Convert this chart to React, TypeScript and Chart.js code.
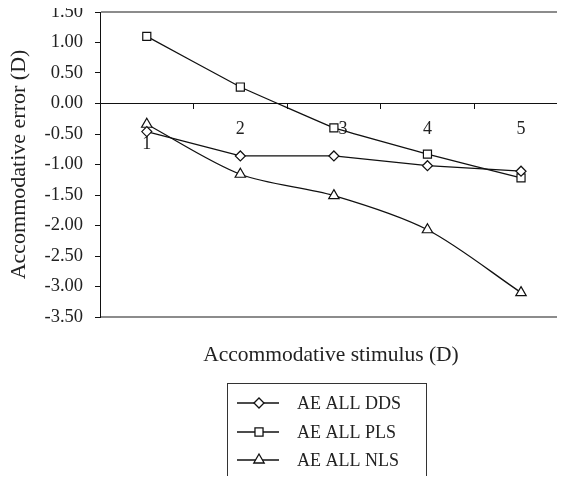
import React, { useEffect, useRef } from 'react';
import { Chart, registerables } from 'chart.js';

Chart.register(...registerables);

const categories = ['1', '2', '3', '4', '5'];
const seriesNames = ['AE ALL DDS', 'AE ALL PLS', 'AE ALL NLS'];
const ddsValues = [-0.46, -0.86, -0.86, -1.02, -1.11];
const plsValues = [1.1, 0.27, -0.4, -0.83, -1.22];
const nlsValues = [-0.34, -1.16, -1.51, -2.07, -3.1];
const yMin = -3.5;
const yMax = 1.5;
const yStep = 0.5;
const xTitle = 'Accommodative stimulus (D)';
const yTitle = 'Accommodative error (D)';

const FONT = "'Liberation Serif', 'Times New Roman', Times, serif";
const INK = '#222222';
const LINE = '#111111';

function drawMarker(ctx: CanvasRenderingContext2D, style: string, x: number, y: number, r: number) {
  ctx.beginPath();
  if (style === 'rectRot') {
    ctx.moveTo(x - r, y);
    ctx.lineTo(x, y - r);
    ctx.lineTo(x + r, y);
    ctx.lineTo(x, y + r);
    ctx.closePath();
  } else if (style === 'rect') {
    const s = r * Math.SQRT1_2;
    ctx.rect(x - s, y - s, 2 * s, 2 * s);
  } else {
    ctx.moveTo(x, y - r);
    ctx.lineTo(x + r * Math.sin((2 * Math.PI) / 3), y - r * Math.cos((2 * Math.PI) / 3));
    ctx.lineTo(x + r * Math.sin((4 * Math.PI) / 3), y - r * Math.cos((4 * Math.PI) / 3));
    ctx.closePath();
  }
  ctx.fillStyle = '#ffffff';
  ctx.fill();
  ctx.stroke();
}

const framePlugin = {
  id: 'framePlugin',
  beforeDatasetsDraw(chart: any) {
    const { ctx, chartArea } = chart;
    ctx.save();
    ctx.strokeStyle = '#8c8c8c';
    ctx.lineWidth = 2;
    ctx.beginPath();
    ctx.moveTo(chartArea.left + 1, chartArea.top);
    ctx.lineTo(chart.width, chartArea.top);
    ctx.moveTo(chartArea.left + 1, chartArea.bottom);
    ctx.lineTo(chart.width, chartArea.bottom);
    ctx.stroke();
    ctx.restore();
  },
  afterDraw(chart: any) {
    const { ctx } = chart;
    ctx.save();
    // x axis title
    ctx.fillStyle = INK;
    ctx.font = `21.5px ${FONT}`;
    ctx.textAlign = 'center';
    ctx.textBaseline = 'middle';
    ctx.fillText(xTitle, 331, 355);

    // legend box
    ctx.strokeStyle = '#333333';
    ctx.lineWidth = 1;
    ctx.strokeRect(227.5, 383.5, 199, 130);

    const rowY = [403, 432, 460];
    chart.data.datasets.forEach((ds: any, i: number) => {
      const y = rowY[i];
      ctx.strokeStyle = LINE;
      ctx.lineWidth = 1.3;
      ctx.beginPath();
      ctx.moveTo(237, y);
      ctx.lineTo(279, y);
      ctx.stroke();
      drawMarker(ctx, ds.pointStyle, 259, y, ds.pointRadius);
      ctx.fillStyle = INK;
      ctx.font = `18px ${FONT}`;
      ctx.textAlign = 'left';
      ctx.textBaseline = 'middle';
      ctx.fillText(ds.label, 297, y + 1);
    });
    ctx.restore();
  },
};

export default function App() {
  const canvasRef = useRef<HTMLCanvasElement | null>(null);

  useEffect(() => {
    if (!canvasRef.current) return;
    const common = {
      borderColor: LINE,
      borderWidth: 1.3,
      pointBackgroundColor: '#ffffff',
      pointBorderColor: LINE,
      pointBorderWidth: 1.2,
      fill: false,
    };
    const chart = new Chart(canvasRef.current, {
      type: 'line',
      data: {
        labels: categories,
        datasets: [
          { ...common, label: seriesNames[0], data: ddsValues, pointStyle: 'rectRot', pointRadius: 5, tension: 0 },
          { ...common, label: seriesNames[1], data: plsValues, pointStyle: 'rect', pointRadius: 5.7, tension: 0.05 },
          { ...common, label: seriesNames[2], data: nlsValues, pointStyle: 'triangle', pointRadius: 6, tension: 0.3 },
        ],
      },
      options: {
        animation: false,
        responsive: false,
        devicePixelRatio: 1,
        events: [],
        layout: { padding: { left: 0, top: 12, right: 5, bottom: 167 } },
        plugins: {
          legend: { display: false },
          tooltip: { enabled: false },
          title: { display: false },
        },
        scales: {
          x: {
            type: 'category',
            position: { y: 0 } as any,
            offset: true,
            grid: {
              offset: true,
              drawOnChartArea: false,
              drawTicks: true,
              tickLength: 5,
              color: '#111111',
            },
            border: { display: true, color: '#111111', width: 1 },
            ticks: {
              color: INK,
              padding: 13,
              maxRotation: 0,
              autoSkip: false,
              font: { family: FONT, size: 18, lineHeight: 0.85 },
              callback: (_v: any, i: number) =>
                i === 0 ? ['', categories[i]] : i === 2 ? '    ' + categories[i] : categories[i],
            },
          },
          y: {
            type: 'linear',
            min: yMin,
            max: yMax,
            afterFit: (scale: any) => {
              scale.width = 100;
              scale.paddingTop = 0;
              scale.paddingBottom = 0;
            },
            grid: {
              drawOnChartArea: false,
              drawTicks: true,
              tickLength: 5,
              color: '#111111',
            },
            border: { display: true, color: '#111111', width: 1 },
            ticks: {
              stepSize: yStep,
              color: INK,
              padding: 12,
              font: { family: FONT, size: 18.5 },
              callback: (v: any) => Number(v).toFixed(2),
            },
            title: {
              display: true,
              text: yTitle,
              color: INK,
              padding: { top: 6, bottom: 0 },
              font: { family: FONT, size: 22 },
            },
          },
        },
      },
      plugins: [framePlugin],
    });
    return () => chart.destroy();
  }, []);

  return (
    <div style={{ margin: -8, width: 565, height: 484, overflow: 'hidden', position: 'relative' }}>
      <canvas ref={canvasRef} width={575} height={484} style={{ display: 'block', width: 575, height: 484 }} />
    </div>
  );
}
